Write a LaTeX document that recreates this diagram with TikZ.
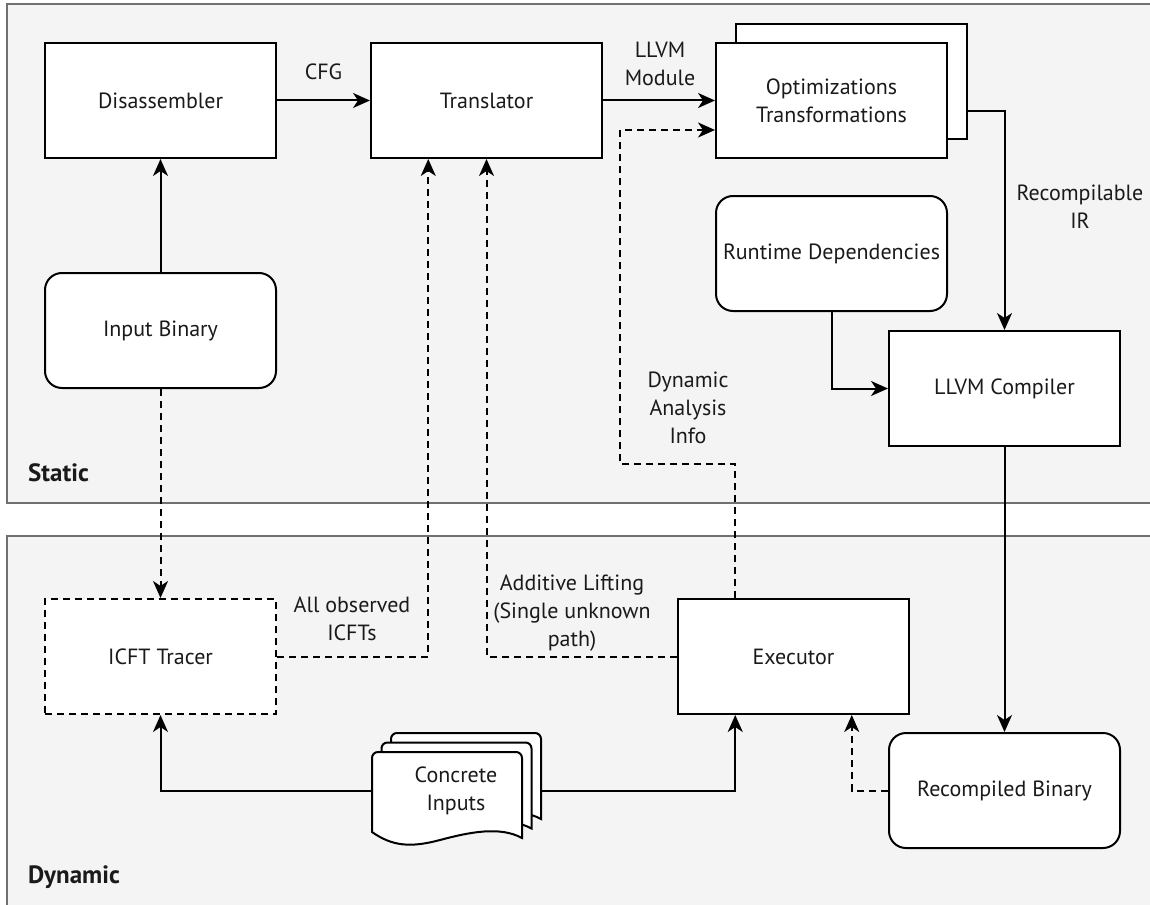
\documentclass[tikz,border=0pt]{standalone}
\usepackage{fontspec}
\setmainfont{PT Sans}
\usetikzlibrary{arrows.meta,calc}
\definecolor{panelbg}{HTML}{F4F4F4}
\definecolor{panelline}{HTML}{707070}
\definecolor{ink}{HTML}{1A1A1A}

\begin{document}
\begin{tikzpicture}[x=1pt,y=-1pt,
  every node/.style={font=\fontsize{22}{28}\selectfont, text=ink},
  box/.style={draw=black, fill=white, line width=2pt, minimum width=231pt,
              minimum height=115pt, inner sep=0pt, align=center},
  rbox/.style={box, rounded corners=17pt},
  dbox/.style={box, dash pattern=on 7pt off 5pt},
  conn/.style={line width=2pt, -{Stealth[length=17pt,width=15pt,inset=5pt]}},
  dconn/.style={conn, dash pattern=on 7pt off 5pt},
  panel/.style={fill=panelbg, draw=panelline, line width=2pt},
  lbl/.style={align=center, inner sep=0pt},
  paneltitle/.style={anchor=west, inner sep=0pt, font=\fontsize{25}{28}\selectfont\bfseries},
  doc/.style={draw=black, fill=white, line width=2pt, rounded corners=6pt}]

\useasboundingbox (0,0) rectangle (1150,904);
\fill[white] (0,0) rectangle (1150,904);

% the two phases
\draw[panel] (7,4) rectangle (1170,503);
\draw[panel] (7,536) rectangle (1170,920);
\node[paneltitle] (static) at (28,473) {Static};
\node[paneltitle] (dynamic) at (28,877) {Dynamic};

% stack of concrete input documents, back to front
\foreach \d in {19,9.5,0} {
  \draw[doc] ($(372,832)+(\d,-\d)$) -- ($(372,752)+(\d,-\d)$) -- ($(522,752)+(\d,-\d)$)
    [sharp corners] -- ($(522,838)+(\d,-\d)$)
    .. controls ($(500,826)+(\d,-\d)$) and ($(470,832)+(\d,-\d)$) .. ($(440,840)+(\d,-\d)$)
    .. controls ($(410,848)+(\d,-\d)$) and ($(392,846)+(\d,-\d)$) .. cycle;
}
\node[lbl, minimum width=168pt, minimum height=90pt] (ci) at (456,791) {Concrete\\Inputs};

% static-phase components
\node[box] (dis) at (160.5,100.5) {Disassembler};
\node[box] (tr) at (486.5,100.5) {Translator};
\node[box] (optb) at (851,81.5) {};
\node[box] (opt) at (831.5,100.5) {Optimizations\\Transformations};
\node[rbox] (inb) at (160.5,330.5) {Input Binary};
\node[rbox] (rt) at (831.5,253.5) {Runtime Dependencies};
\node[box] (llc) at (1004.5,388.5) {LLVM Compiler};

% dynamic-phase components
\node[dbox] (icft) at (160.5,656.5) {ICFT Tracer};
\node[box] (ex) at (793.5,656.5) {Executor};
\node[rbox] (rb) at (1004.5,790.5) {Recompiled Binary};

% attachment points on box edges
\coordinate (trq) at ($(tr.south west)!0.25!(tr.south east)$);
\coordinate (exqt) at ($(ex.north west)!0.25!(ex.north east)$);
\coordinate (exqb) at ($(ex.south west)!0.25!(ex.south east)$);
\coordinate (ex3b) at ($(ex.south west)!0.75!(ex.south east)$);
\coordinate (optin) at ($(opt.west)+(0,29.5)$);
\coordinate (optout) at ($(optb.south east)+(0,-29)$);
\coordinate (dabend) at (620,464);

% static flow
\draw[conn] (inb) -- (dis);
\draw[conn] (dis) -- node[lbl, above=20pt] (cfg) {CFG} (tr);
\draw[conn] (tr) -- (opt);
\node[lbl] (llvmmod) at (660,64) {LLVM\\Module};
\draw[conn] (optout) -| (llc.north);
\node[lbl] (recir) at (1080,207) {Recompilable\\IR};
\draw[conn] (rt.south) |- (llc.west);
\draw[conn] (llc) -- (rb);

% dynamic flow
\draw[dconn] (inb) -- (icft);
\draw[conn] (ci.west) -| (icft.south);
\draw[conn] (ci.east) -| (exqb);
\draw[dconn] (rb.west) -| (ex3b);
\draw[dconn] (icft.east) -| (trq);
\node[lbl] (allobs) at (352,619) {All observed\\ICFTs};
\draw[dconn] (ex.west) -| (tr.south);
\node[lbl] (addlift) at (572,613) {Additive Lifting\\(Single unknown\\path)};
\draw[dconn] (exqt) |- (dabend) |- (optin);
\node[lbl] (dainfo) at (688,408) {Dynamic\\Analysis\\Info};
\end{tikzpicture}
\end{document}
